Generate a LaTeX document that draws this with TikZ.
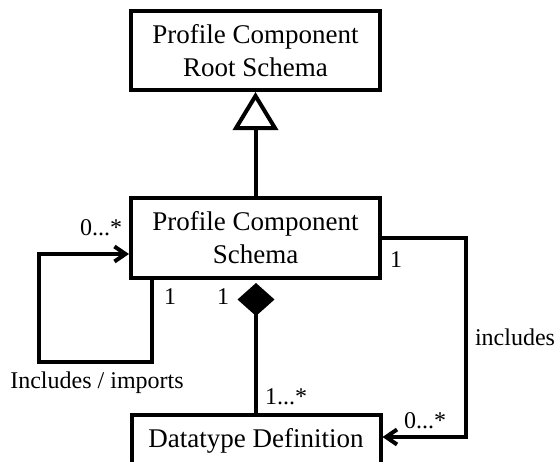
\documentclass[tikz,border=0pt]{standalone}
\usepackage{fontspec}
\setmainfont{Liberation Serif}
\usetikzlibrary{arrows.meta}
\usetikzlibrary{positioning}

\tikzset{
  classbox/.style={draw, line width=4pt, minimum width=249pt, align=center, inner sep=0pt, font=\fontsize{27}{33}\selectfont},
  assoc/.style={line width=4pt},
  barb/.style={-{Straight Barb[length=11pt, width=15pt]}},
  lbl/.style={font=\fontsize{24}{28}\selectfont, inner sep=0pt}
}

\begin{document}
\begin{tikzpicture}[x=1pt, y=-1pt]
        \useasboundingbox (0,0) rectangle (557,461);
        \node[classbox, minimum height=79pt] (root) at (255.5, 50.5) {Profile Component\\Root Schema};
        \node[classbox, minimum height=80pt] (schema) at (255.5, 238) {Profile Component\\Schema};
        \node[classbox, minimum height=52pt] (dtype) at (256, 441) {Datatype Definition};
        % generalisation
        \draw[assoc, -{Triangle[open, length=38pt, width=45pt]}] (schema.north) -- (root.south);
        % composition
        \coordinate (diamtip) at ([yshift=-3pt]dtype.north |- schema.south);
        \draw[assoc, -{Diamond[length=33pt, width=37pt]}] (dtype.north) -- (diamtip);
        % self loop
        \coordinate (loopstart) at ([xshift=23pt]schema.south west);
        \draw[assoc, barb] (loopstart) |- (39, 362) |- ([yshift=-16pt]schema.west);
        % includes
        \draw[assoc, barb] (schema.east) -- ++(84, 0) |- ([yshift=4pt]dtype.east);
        % labels
        \node[lbl] (selfmany) at (101, 228) {0...*};
        \node[lbl] (selfone) at (170, 297) {1};
        \node[lbl] (compone) at (223, 297) {1};
        \node[lbl] (selfname) at (97, 383) {Includes / imports};
        \node[lbl] (compmany) at (286, 397) {1...*};
        \node[lbl] (inclone) at (396, 260) {1};
        \node[lbl] (inclname) at (515, 337) {includes};
        \node[lbl] (inclmany) at (425, 421) {0...*};
      \end{tikzpicture}
\end{document}
